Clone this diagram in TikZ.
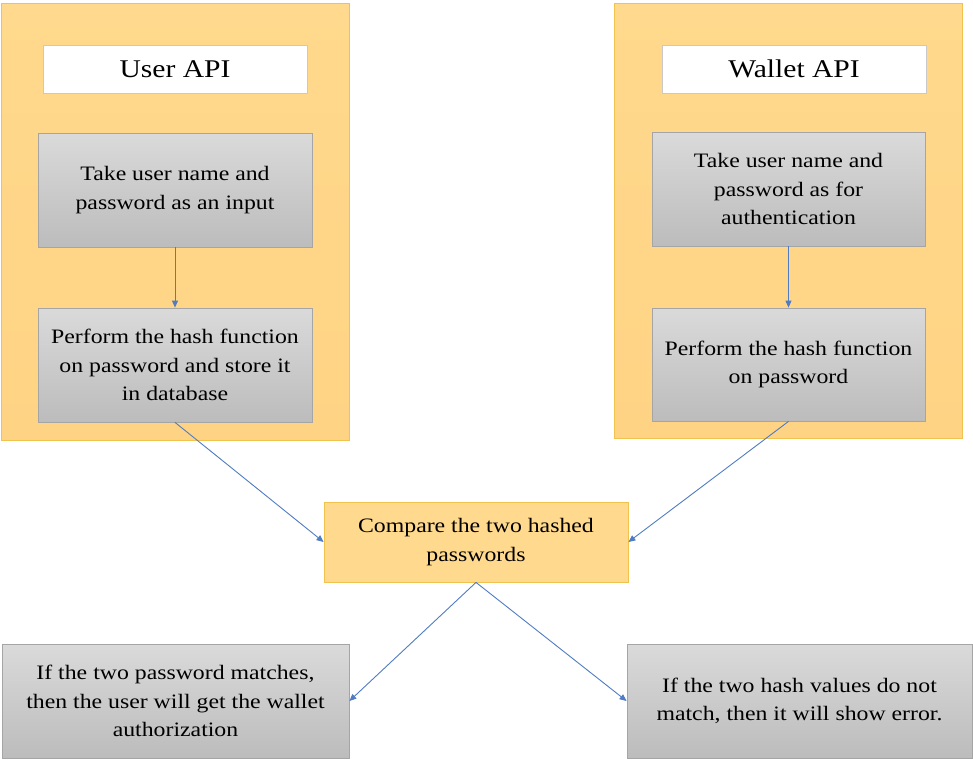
\documentclass[tikz,border=0pt]{standalone}
\usepackage{fontspec}
\setmainfont{Liberation Serif}[FakeStretch=1.16]
\usetikzlibrary{arrows.meta}
\definecolor{panelfill}{HTML}{FFD98D}
\definecolor{panelfillb}{HTML}{FFD384}
\definecolor{paneldraw}{HTML}{F2C24F}
\definecolor{greytop}{HTML}{DADADA}
\definecolor{greybot}{HTML}{BCBCBC}
\definecolor{greydraw}{HTML}{A5A5A5}
\definecolor{arrowblue}{HTML}{4F7CC3}
\tikzset{
  panel/.style={draw=paneldraw, line width=0.8pt, top color=panelfill, bottom color=panelfillb, minimum width=#1, inner sep=0pt},
  titlebox/.style={draw=greydraw!60, line width=0.6pt, fill=white, minimum width=264pt, minimum height=48pt, inner sep=0pt, font=\fontsize{25.5}{30}\selectfont},
  stepbox/.style={draw=greydraw, line width=0.8pt, top color=greytop, bottom color=greybot, minimum width=#1, align=center, inner sep=0pt, font=\fontsize{20.5}{28.5}\selectfont},
  comparebox/.style={draw=paneldraw, line width=0.8pt, fill=panelfill, minimum width=304pt, minimum height=80pt, align=center, inner sep=0pt, font=\fontsize{20.5}{28.5}\selectfont},
  conn/.style={draw=arrowblue, line width=0.9pt, -{Triangle[length=7pt,width=6pt]}}
}
\begin{document}
\begin{tikzpicture}[x=1pt,y=-1pt]
\useasboundingbox (0,0) rectangle (973,761);
% panels
\node[panel=348pt, minimum height=437pt] (lp) at (175,221.5) {};
\node[panel=348pt, minimum height=435pt] (rp) at (788,220.5) {};
% titles
\node[titlebox] (ua) at (175,69) {User API};
\node[titlebox] (wa) at (794,69) {Wallet API};
% steps
\node[stepbox=274pt, minimum height=114pt] (l1) at (175,190) {Take user name and\\password as an input};
\node[stepbox=274pt, minimum height=114pt] (l2) at (175,365) {Perform the hash function\\on password and store it\\in database};
\node[stepbox=273pt, minimum height=114pt] (r1) at (788.5,189) {Take user name and\\password as for\\authentication};
\node[stepbox=273pt, minimum height=113pt] (r2) at (788.5,364.5) {Perform the hash function\\on password};
% compare
\node[comparebox] (cmp) at (476,542) {Compare the two hashed\\passwords};
% results
\node[stepbox=347pt, minimum height=114pt] (ok) at (175.5,701) {If the two password matches,\\then the user will get the wallet\\authorization};
\node[stepbox=345pt, minimum height=114pt] (err) at (799.5,701) {If the two hash values do not\\match, then it will show error.};
% connectors
\draw[conn] (l1.south) -- (l2.north);
\draw[conn] (r1.south) -- (r2.north);
\draw[conn] (l2.south) -- (cmp.west);
\draw[conn] (r2.south) -- (cmp.east);
\draw[conn] (cmp.south) -- (ok.east);
\draw[conn] (cmp.south) -- (err.west);
\end{tikzpicture}
\end{document}
